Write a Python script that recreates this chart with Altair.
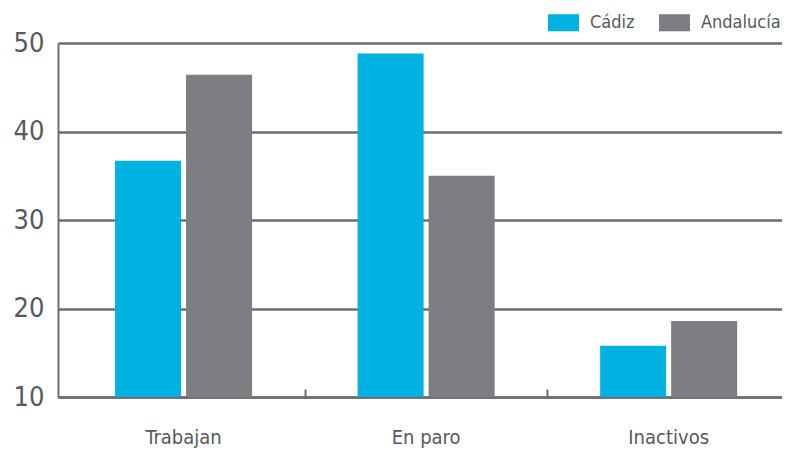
import altair as alt
import pandas as pd

categories = ["Trabajan", "En paro", "Inactivos"]
series = ["Cádiz", "Andalucía"]
cadiz = [36.7, 48.8, 15.8]
andalucia = [46.4, 35.0, 18.6]
y_ticks = [10, 20, 30, 40, 50]
colors = ["#00b2e2", "#7d7e82"]

rows = []
for c, v in zip(categories, cadiz):
    rows.append({"cat": c, "serie": series[0], "valor": v})
for c, v in zip(categories, andalucia):
    rows.append({"cat": c, "serie": series[1], "valor": v})
df = pd.DataFrame(rows)

FONT = "DejaVu Sans Condensed, Liberation Sans Narrow, Roboto, sans-serif"
GRAY = "#6d6e71"
TXT = "#58595b"

x_scale = alt.Scale(paddingInner=0.435, paddingOuter=0.21, align=0.56)

bars = alt.Chart(df).mark_bar().encode(
    x=alt.X("cat:N", sort=categories, title=None, scale=x_scale,
            axis=alt.Axis(orient="bottom", labelAngle=0, labelFontSize=20, labelColor=TXT,
                          labelFont=FONT, labelPadding=30, ticks=False,
                          domainColor=GRAY, domainWidth=2.5)),
    xOffset=alt.XOffset("serie:N", sort=series,
                        scale=alt.Scale(paddingInner=0.07, paddingOuter=0)),
    y=alt.Y("valor:Q", title=None,
            scale=alt.Scale(domain=[10, 50], zero=False, nice=False),
            axis=alt.Axis(values=y_ticks, labelFontSize=27, labelColor=TXT, labelFont=FONT,
                          labelPadding=14, ticks=False, grid=True, gridColor=GRAY,
                          gridWidth=2.5, domainColor=GRAY, domainWidth=2)),
    y2=alt.datum(10),
    color=alt.Color("serie:N", sort=series,
                    scale=alt.Scale(domain=series, range=colors),
                    legend=alt.Legend(title=None, orient="none", legendX=490, legendY=-36,
                                      direction="horizontal",
                                      symbolType="M-1,-0.55H1V0.55H-1Z", symbolSize=961,
                                      symbolStrokeWidth=0, symbolOpacity=1,
                                      labelFontSize=18, labelColor=TXT, labelFont=FONT,
                                      labelOffset=11, columnPadding=24)),
)

# separator ticks between category groups (drawn upward from the baseline)
seps = alt.Chart(df).mark_bar(opacity=0).encode(
    x=alt.X("cat:N", sort=categories, title=None, scale=x_scale,
            axis=alt.Axis(orient="top", offset=-354, labels=False, domain=False,
                          ticks=True, tickSize=8, tickOffset=121, tickColor=GRAY,
                          tickWidth=2)),
)

chart = alt.layer(bars, seps).resolve_axis(x="independent").properties(
    width=724, height=354,
    autosize=alt.AutoSizeParams(type="none"),
    padding={"left": 50, "top": 35, "right": 0, "bottom": 52},
).configure_view(stroke=None)

chart.save("out.html", embed_options={"renderer": "svg", "actions": False})
